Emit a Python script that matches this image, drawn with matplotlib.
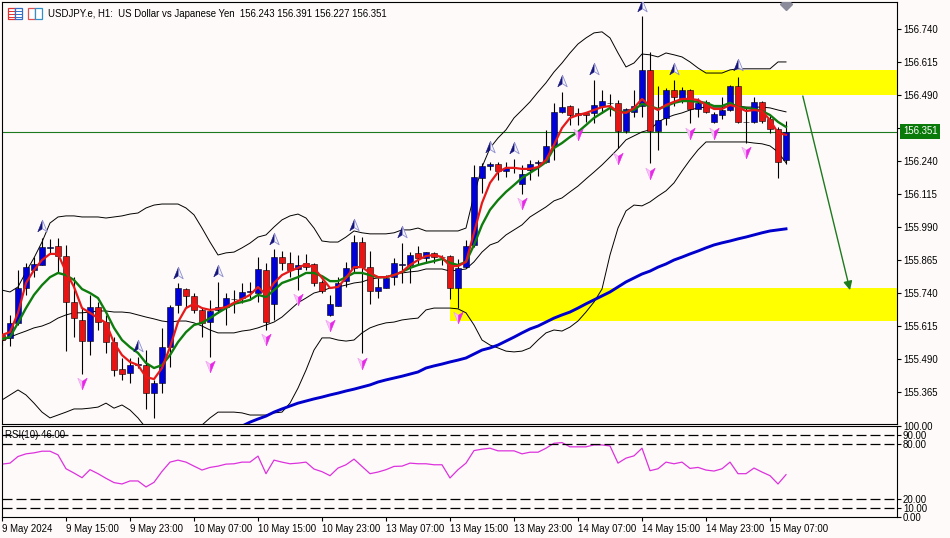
import numpy as np
import matplotlib
matplotlib.use('Agg')
import matplotlib.pyplot as plt
from matplotlib.path import Path
from matplotlib.patches import Rectangle
from matplotlib.lines import Line2D

plt.rcParams['font.family'] = ['Liberation Sans', 'DejaVu Sans']

opens = [155.581,155.570,155.627,155.759,155.827,155.846,155.910,155.918,155.880,155.706,
         155.638,155.558,155.687,155.630,155.554,155.452,155.437,155.467,155.467,155.362,
         155.400,155.535,155.695,155.755,155.729,155.676,155.630,155.676,155.687,155.716,
         155.721,155.744,155.740,155.827,155.699,155.876,155.854,155.831,155.854,155.850,
         155.782,155.657,155.691,155.785,155.835,155.933,155.838,155.748,155.759,155.800,
         155.846,155.846,155.892,155.873,155.892,155.876,155.880,155.759,155.838,155.922,
         156.176,156.221,156.229,156.202,156.214,156.153,156.206,156.233,156.236,156.297,
         156.426,156.448,156.422,156.422,156.422,156.448,156.460,156.460,156.354,156.426,
         156.448,156.585,156.354,156.403,156.509,156.479,156.509,156.437,156.464,156.388,
         156.414,156.433,156.524,156.388,156.388,156.464,156.399,156.361,156.243]
closes = [155.562,155.627,155.759,155.838,155.850,155.914,155.914,155.880,155.706,155.645,
          155.558,155.687,155.630,155.554,155.448,155.433,155.467,155.471,155.362,155.400,
          155.535,155.687,155.759,155.729,155.676,155.627,155.672,155.687,155.721,155.719,
          155.744,155.746,155.831,155.630,155.876,155.854,155.827,155.846,155.838,155.778,
          155.748,155.699,155.778,155.835,155.933,155.838,155.748,155.763,155.797,155.854,
          155.848,155.884,155.873,155.895,155.876,155.878,155.759,155.835,155.918,156.179,
          156.221,156.229,156.202,156.214,156.212,156.191,156.229,156.235,156.297,156.426,
          156.444,156.414,156.414,156.414,156.452,156.467,156.458,156.354,156.437,156.448,
          156.585,156.354,156.395,156.509,156.483,156.509,156.437,156.460,156.426,156.418,
          156.433,156.524,156.388,156.386,156.464,156.392,156.361,156.236,156.351]
highs = [155.589,155.657,155.827,155.854,155.876,155.948,155.945,155.948,155.922,155.800,
         155.687,155.733,155.706,155.657,155.573,155.494,155.494,155.497,155.524,155.411,
         155.608,155.695,155.778,155.759,155.740,155.683,155.714,155.782,155.740,155.751,
         155.778,155.782,155.876,155.854,155.907,155.899,155.895,155.884,155.888,155.854,
         155.789,155.733,155.800,155.858,155.960,155.952,155.899,155.797,155.808,155.873,
         155.929,155.895,155.918,155.895,155.895,155.884,155.884,155.869,155.941,156.225,
         156.233,156.236,156.236,156.236,156.248,156.225,156.244,156.244,156.358,156.460,
         156.501,156.452,156.441,156.426,156.547,156.509,156.494,156.471,156.441,156.509,
         156.789,156.653,156.524,156.517,156.547,156.520,156.513,156.479,156.471,156.426,
         156.483,156.528,156.558,156.441,156.483,156.467,156.414,156.369,156.391]
lows = [155.543,155.539,155.619,155.733,155.800,155.846,155.888,155.820,155.520,155.573,
        155.433,155.505,155.600,155.513,155.425,155.411,155.400,155.456,155.301,155.267,
        155.362,155.460,155.665,155.687,155.665,155.573,155.497,155.665,155.619,155.665,
        155.703,155.714,155.706,155.600,155.638,155.827,155.800,155.751,155.827,155.767,
        155.740,155.653,155.691,155.763,155.816,155.513,155.699,155.721,155.759,155.770,
        155.778,155.778,155.846,155.854,155.854,155.846,155.717,155.683,155.835,155.914,
        156.119,156.206,156.168,156.179,156.195,156.115,156.168,156.183,156.233,156.244,
        156.422,156.376,156.376,156.388,156.384,156.422,156.410,156.289,156.346,156.407,
        156.407,156.233,156.282,156.376,156.448,156.460,156.384,156.407,156.422,156.384,
        156.399,156.429,156.384,156.308,156.384,156.384,156.346,156.176,156.227]

ma_red = [155.581,155.592,155.665,155.778,155.827,155.865,155.888,155.888,155.820,155.763,
          155.683,155.665,155.645,155.627,155.551,155.505,155.479,155.467,155.422,155.414,
          155.456,155.535,155.630,155.683,155.699,155.683,155.676,155.680,155.687,155.703,
          155.717,155.733,155.763,155.733,155.778,155.808,155.823,155.835,155.850,155.835,
          155.797,155.759,155.763,155.797,155.838,155.838,155.816,155.800,155.800,155.808,
          155.820,155.846,155.865,155.880,155.884,155.876,155.842,155.842,155.858,155.968,
          156.081,156.157,156.198,156.214,156.214,156.210,156.210,156.217,156.244,156.301,
          156.365,156.403,156.414,156.422,156.433,156.444,156.448,156.426,156.422,156.441,
          156.475,156.448,156.433,156.452,156.464,156.475,156.475,156.471,156.452,156.437,
          156.437,156.452,156.444,156.429,156.433,156.429,156.395,156.346,156.339]
ma_green = [155.566,155.573,155.627,155.683,155.733,155.770,155.800,155.816,155.808,155.789,
            155.755,155.740,155.721,155.668,155.608,155.562,155.535,155.513,155.475,155.456,
            155.467,155.505,155.554,155.592,155.619,155.627,155.645,155.665,155.683,155.699,
            155.706,155.714,155.733,155.725,155.751,155.778,155.789,155.800,155.816,155.816,
            155.804,155.785,155.785,155.800,155.816,155.816,155.808,155.800,155.800,155.808,
            155.820,155.835,155.846,155.854,155.861,155.869,155.854,155.846,155.858,155.922,
            155.998,156.055,156.092,156.123,156.149,156.176,156.195,156.214,156.236,156.289,
            156.308,156.331,156.350,156.376,156.403,156.422,156.441,156.426,156.426,156.433,
            156.456,156.448,156.437,156.448,156.460,156.467,156.467,156.464,156.460,156.448,
            156.448,156.460,156.444,156.441,156.437,156.429,156.414,156.388,156.369]
bb_upper = [155.751,155.744,155.763,155.820,155.873,155.933,156.005,156.028,156.032,156.032,
            156.028,156.028,156.028,156.024,156.028,156.032,156.039,156.043,156.062,156.073,
            156.077,156.077,156.077,156.062,156.036,155.986,155.933,155.884,155.892,155.895,
            155.911,155.929,155.952,155.960,155.990,156.017,156.032,156.039,156.024,155.986,
            155.937,155.933,155.933,155.952,155.975,155.968,155.964,155.964,155.964,155.968,
            155.979,155.979,155.986,155.975,155.975,155.975,155.975,155.975,155.986,156.111,
            156.217,156.289,156.327,156.358,156.403,156.433,156.464,156.501,156.536,156.577,
            156.611,156.649,156.683,156.706,156.725,156.729,156.706,156.649,156.596,156.611,
            156.645,156.642,156.634,156.649,156.642,156.634,156.615,156.592,156.573,156.573,
            156.573,156.585,156.589,156.589,156.589,156.589,156.589,156.615,156.615]
bb_mid = [155.558,155.573,155.585,155.596,155.608,155.615,155.627,155.645,155.657,155.665,
          155.665,155.668,155.672,155.672,155.668,155.668,155.665,155.657,155.649,155.642,
          155.634,155.630,155.634,155.634,155.627,155.615,155.600,155.589,155.589,155.589,
          155.596,155.600,155.608,155.619,155.630,155.649,155.676,155.703,155.721,155.740,
          155.748,155.759,155.763,155.770,155.778,155.782,155.793,155.797,155.800,155.812,
          155.816,155.820,155.823,155.831,155.831,155.831,155.823,155.827,155.831,155.858,
          155.895,155.922,155.933,155.960,155.979,155.998,156.028,156.047,156.066,156.089,
          156.100,156.123,156.145,156.172,156.198,156.225,156.255,156.286,156.320,156.335,
          156.350,156.358,156.388,156.403,156.414,156.422,156.433,156.441,156.444,156.444,
          156.444,156.448,156.448,156.444,156.444,156.444,156.441,156.433,156.426]
bb_lower = [155.335,155.354,155.373,155.354,155.323,155.289,155.267,155.278,155.289,155.301,
            155.301,155.304,155.308,155.323,155.304,155.316,155.297,155.267,155.229,155.214,
            155.198,155.183,155.183,155.191,155.214,155.240,155.267,155.289,155.289,155.289,
            155.286,155.278,155.278,155.278,155.286,155.289,155.323,155.380,155.448,155.524,
            155.570,155.570,155.562,155.558,155.562,155.589,155.608,155.619,155.627,155.630,
            155.638,155.642,155.645,155.676,155.683,155.683,155.683,155.680,155.665,155.619,
            155.562,155.543,155.532,155.520,155.517,155.520,155.532,155.562,155.589,155.600,
            155.596,155.611,155.634,155.668,155.706,155.755,155.884,155.986,156.051,156.073,
            156.070,156.085,156.107,156.127,156.157,156.202,156.244,156.282,156.312,156.312,
            156.312,156.312,156.312,156.312,156.308,156.305,156.297,156.274,156.233]
ma_blue_start = 28
ma_blue = [155.214,155.221,155.236,155.251,155.263,155.274,155.289,155.301,155.312,155.323,
           155.331,155.339,155.346,155.354,155.361,155.369,155.376,155.384,155.392,155.403,
           155.411,155.418,155.425,155.433,155.441,155.456,155.464,155.471,155.479,155.486,
           155.494,155.509,155.524,155.532,155.543,155.558,155.573,155.589,155.604,155.615,
           155.630,155.645,155.657,155.668,155.683,155.699,155.714,155.729,155.744,155.763,
           155.782,155.797,155.812,155.823,155.838,155.850,155.865,155.876,155.888,155.899,
           155.911,155.922,155.930,155.937,155.945,155.952,155.960,155.968,155.975,155.979,155.983]
rsi = [58.1,59.2,66.5,69.4,70.5,72.3,72.3,68.3,53.0,48.3,43.2,52.0,47.6,42.5,37.8,36.3,39.6,39.6,33.0,38.1,
       50.1,60.3,62.5,60.3,55.9,51.6,54.5,55.9,58.1,58.5,60.3,60.3,66.9,47.6,62.5,60.3,58.5,59.2,60.3,52.7,
       49.8,45.4,53.8,57.4,63.6,55.6,47.6,49.4,52.0,55.6,55.9,59.2,58.5,58.5,57.4,57.4,42.9,52.0,59.2,73.0,
       74.5,75.6,72.7,72.7,72.7,69.4,71.2,71.2,75.6,81.0,81.8,77.1,77.1,77.1,79.2,79.2,78.1,59.2,64.7,67.2,
       75.6,50.9,53.0,60.3,58.5,60.3,53.4,54.5,51.6,50.5,53.0,60.3,47.6,47.6,53.8,49.4,45.4,36.3,46.5]

up_bars = [5,17,22,27,34,44,50,61,64,70,74,80,84,92]
up_vals = [155.994,155.539,155.816,155.823,155.945,155.998,155.971,156.293,156.289,156.543,156.589,156.827,156.589,156.604]
down_bars = [10,26,33,37,41,45,57,65,72,77,81,86,89,93]
down_vals = [155.400,155.464,155.566,155.717,155.619,155.475,155.649,156.081,156.342,156.251,156.195,156.346,156.346,156.274]

price_ticks = [156.740,156.615,156.490,156.365,156.240,156.115,155.990,155.865,155.740,155.615,155.490,155.365]
rsi_ticks = [100,90,80,20,10,0]
rsi_levels = [90,80,20,10]
time_labels = ['9 May 2024','9 May 15:00','9 May 23:00','10 May 07:00','10 May 15:00','10 May 23:00','13 May 07:00',
               '13 May 15:00','13 May 23:00','14 May 07:00','14 May 15:00','14 May 23:00','15 May 07:00']
last_price = 156.351

bg = '#FFFAFA'
W, H = 950, 538
fs = 6.9
fig = plt.figure(figsize=(W/100, H/100), dpi=100, facecolor=bg)
ax = fig.add_axes([2/W, 1-424/H, 895/W, 422/H], facecolor=bg)
ax2 = fig.add_axes([2/W, 1-517/H, 895/W, 91/H], facecolor=bg)

xmax = 895/8
bars = np.arange(len(opens))
opens = np.array(opens)
closes = np.array(closes)

# supply / demand zones
ax.add_patch(Rectangle((81, 156.490), xmax-81, 156.585-156.490, color='#FFFF00', lw=0, zorder=1))
ax.add_patch(Rectangle((56, 155.634), xmax-56, 155.759-155.634, color='#FFFF00', lw=0, zorder=1))

ax.axhline(last_price, color='#1E7A1E', lw=0.8, zorder=2)

ax.plot(bars, bb_upper, color='black', lw=0.7, zorder=2)
ax.plot(bars, bb_mid, color='black', lw=0.7, zorder=2)
ax.plot(bars, bb_lower, color='black', lw=0.7, zorder=2)

# candles
ax.vlines(bars, lows, highs, color='black', lw=0.8, zorder=3)
up = closes >= opens
ax.bar(bars[up], (closes-opens)[up], bottom=opens[up], width=0.65, color='#0000D8', edgecolor='black', lw=0.4, zorder=4)
ax.bar(bars[~up], (opens-closes)[~up], bottom=closes[~up], width=0.65, color='#E81414', edgecolor='black', lw=0.4, zorder=4)

ax.plot(np.arange(ma_blue_start, len(opens)), ma_blue, color='#0000CC', lw=2.1, zorder=5)
ax.plot(bars, ma_green, color='#0E7D0E', lw=1.7, zorder=6)
ax.plot(bars, ma_red, color='#E61919', lw=1.6, zorder=6)

# arrows, two halves each
left_up = Path([(0,1),(-0.75,-0.85),(0,-0.35),(0,1)], closed=True)
right_up = Path([(0,1),(0.75,-0.85),(0,-0.35),(0,1)], closed=True)
left_down = Path([(0,-1),(-0.75,0.85),(0,0.35),(0,-1)], closed=True)
right_down = Path([(0,-1),(0.75,0.85),(0,0.35),(0,-1)], closed=True)
ax.plot(up_bars, up_vals, ls='', marker=left_up, ms=9, mfc='#14147A', mec='#14147A', mew=0.4, zorder=7)
ax.plot(up_bars, up_vals, ls='', marker=right_up, ms=9, mfc='#F4F4FF', mec='#8C8CCC', mew=0.6, zorder=7)
ax.plot(down_bars, down_vals, ls='', marker=left_down, ms=9, mfc='#F8C8F8', mec='#F0A0F0', mew=0.5, zorder=7)
ax.plot(down_bars, down_vals, ls='', marker=right_down, ms=9, mfc='#E628E6', mec='#E628E6', mew=0.4, zorder=7)
ax.plot([98], [156.835], ls='', marker='D', ms=6, mfc='#8A8A9A', mec='#8A8A9A', zorder=7)

ax.annotate('', xy=(106, 155.751), xytext=(100.1, 156.486),
            arrowprops=dict(arrowstyle='-|>', color='#1E7A1E', lw=1.0, mutation_scale=13, shrinkA=0, shrinkB=0), zorder=8)

ax.set_xlim(0, xmax)
ax.set_ylim(155.244, 156.842)
ax.yaxis.tick_right()
ax.set_yticks(price_ticks)
ax.set_yticklabels(['%.3f' % t for t in price_ticks])
ax.set_xticks([])
ax.tick_params(axis='y', length=3, width=0.8, pad=1.2, labelsize=fs, color='black')

# RSI panel
ax2.plot(bars, rsi, color='#DC32DC', lw=0.9)
for lev in rsi_levels:
    ax2.axhline(lev, color='black', lw=0.9, ls=(0, (8, 3.2)))
ax2.set_xlim(0, xmax)
ax2.set_ylim(0, 100)
ax2.yaxis.tick_right()
ax2.set_yticks(rsi_ticks)
ax2.set_yticklabels(['%.2f' % t for t in rsi_ticks])
ax2.set_xticks(np.arange(len(time_labels))*8)
ax2.set_xticklabels(time_labels, ha='left')
ax2.tick_params(axis='y', length=3, width=0.8, pad=1.2, labelsize=fs)
ax2.tick_params(axis='x', length=3, width=0.8, pad=2, labelsize=fs)
ax2.text(3/895, 0.9, 'RSI(10) 46.00', transform=ax2.transAxes, fontsize=fs, va='center', ha='left')

for a in (ax, ax2):
    for s in a.spines.values():
        s.set_linewidth(0.8)

# price tag on the axis, covers the 156.365 label
fig.text(903/W, 1-131.5/H, '%.3f' % last_price, fontsize=fs, color='white', va='center', ha='left', zorder=20,
         bbox=dict(facecolor='#0A7A0A', edgecolor='none', pad=2))

# header icons and title
for x0, c1, c2 in [(8, '#E03030', '#3070C8'), (28, '#E05050', '#3090C8')]:
    fig.patches.append(Rectangle((x0/W, 1-19/H), 7/W, 11/H, transform=fig.transFigure, facecolor='white', edgecolor=c1, lw=0.9))
    fig.patches.append(Rectangle(((x0+7)/W, 1-19/H), 7/W, 11/H, transform=fig.transFigure, facecolor='white', edgecolor=c2, lw=0.9))
for yy in (11, 14, 17):
    fig.add_artist(Line2D([9/W, 15/W], [1-yy/H, 1-yy/H], color='#E03030', lw=0.7))
    fig.add_artist(Line2D([15/W, 21/W], [1-yy/H, 1-yy/H], color='#3070C8', lw=0.7))
fig.text(48/W, 1-14/H, 'USDJPY.e, H1:  US Dollar vs Japanese Yen  156.243 156.391 156.227 156.351', fontsize=fs, va='center', ha='left', zorder=20)

fig.savefig('out.png', dpi=100, facecolor=bg)
